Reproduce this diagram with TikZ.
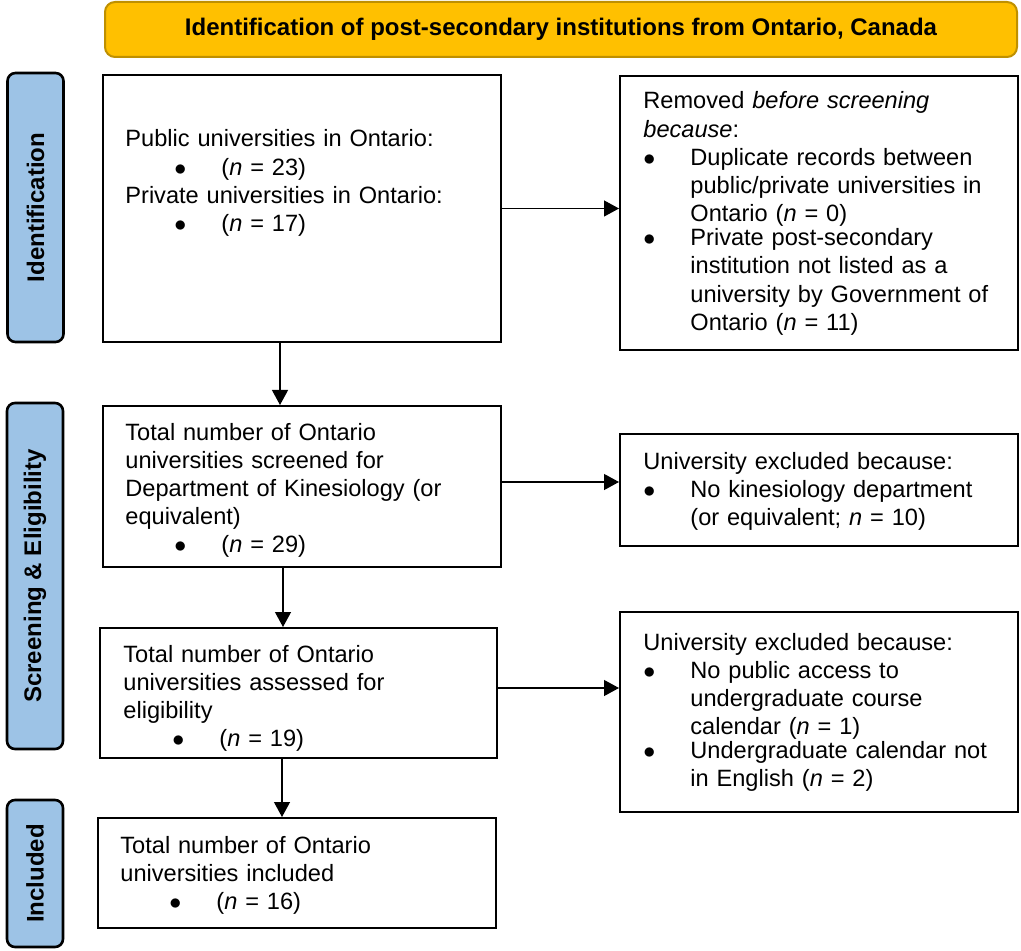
\documentclass[tikz,border=0pt]{standalone}
\usepackage{fontspec}
\setmainfont{Liberation Sans}
\usetikzlibrary{arrows.meta}
\definecolor{titlegold}{HTML}{FFC000}
\definecolor{titleedge}{HTML}{BF9000}
\definecolor{stageblue}{HTML}{9DC3E6}
% bullet line with hanging text
\newcommand{\bitem}[2][0pt]{\par\noindent\hspace*{#1}\makebox[23.5pt][l]{$\bullet$}\parbox[t]{\dimexpr\linewidth-23.5pt-#1\relax}{\raggedright #2}}
\tikzset{
	flowbox/.style={draw, line width=1pt, minimum width=199pt, inner sep=0pt},
	flowtext/.style={anchor=base west, inner sep=0pt, text width=182pt, align=left, font=\fontsize{11.8}{14.1}\selectfont},
	stagebar/.style={draw, line width=1.3pt, fill=stageblue, rounded corners=4pt, rotate=90, minimum height=28pt, inner sep=0pt, font=\fontsize{12}{14}\selectfont\bfseries},
	flowarrow/.style={line width=0.6pt, -{Triangle[length=7.5pt,width=8pt]}}
}
\begin{document}
\begin{tikzpicture}[x=0.5pt,y=-0.5pt]
	\useasboundingbox (0,0) rectangle (1021,951);
	% title and stages
	\node[draw=titleedge, line width=1pt, fill=titlegold, rounded corners=5pt, minimum width=456pt, minimum height=27.5pt, font=\fontsize{12}{14}\selectfont\bfseries] (title) at (561,29.5) {Identification of post-secondary institutions from Ontario, Canada};
	\node[stagebar, minimum width=134.5pt] (stageid) at (35.5,207.5) {Identification};
	\node[stagebar, minimum width=173pt] (stagescr) at (35,576) {Screening \& Eligibility};
	\node[stagebar, minimum width=73.5pt] (stageinc) at (35,873.5) {Included};
	% boxes
	\node[flowbox, minimum height=133.5pt] (ident) at (302,208.5) {};
	\node[flowbox, minimum height=137pt] (removed) at (819,213) {};
	\node[flowbox, minimum height=80.5pt] (screened) at (302,486.5) {};
	\node[flowbox, minimum height=56pt] (exclA) at (819,490) {};
	\node[flowbox, minimum width=198.5pt, minimum height=65pt] (assessed) at (298.5,693) {};
	\node[flowbox, minimum height=100pt] (exclB) at (819,712) {};
	\node[flowbox, minimum height=55pt] (included) at (297,873) {};
	% texts
	\node[flowtext] (ident-txt) at (125,147) {Public universities in Ontario:
		\bitem[24.5pt]{(\textit{n} = 23)}
		\par\noindent Private universities in Ontario:
		\bitem[24.5pt]{(\textit{n} = 17)}};
	\node[flowtext] (removed-txt) at (643,109) {Removed \textit{before screening}\\\textit{because}:
		\bitem{Duplicate records between\\public/private universities in\\Ontario (\textit{n} = 0)}
		\bitem{Private post-secondary\\institution not listed as a\\university by Government of\\Ontario (\textit{n} = 11)}};
	\node[flowtext] (screened-txt) at (125,440) {Total number of Ontario\\universities screened for\\Department of Kinesiology (or\\equivalent)
		\bitem[24.5pt]{(\textit{n} = 29)}};
	\node[flowtext] (exclA-txt) at (643,469) {University excluded because:
		\bitem{No kinesiology department\\(or equivalent; \textit{n} = 10)}};
	\node[flowtext] (assessed-txt) at (123,662) {Total number of Ontario\\universities assessed for\\eligibility
		\bitem[24.5pt]{(\textit{n} = 19)}};
	\node[flowtext] (exclB-txt) at (643,650) {University excluded because:
		\bitem{No public access to\\undergraduate course\\calendar (\textit{n} = 1)}
		\bitem{Undergraduate calendar not\\in English (\textit{n} = 2)}};
	\node[flowtext] (included-txt) at (120,853) {Total number of Ontario\\universities included
		\bitem[24.5pt]{(\textit{n} = 16)}};
	% arrows
	\draw[flowarrow] ([xshift=-11pt]ident.south) -- ([xshift=-11pt]ident.south |- screened.north);
	\draw[flowarrow] ([xshift=-9.5pt]screened.south) -- ([xshift=-9.5pt]screened.south |- assessed.north);
	\draw[flowarrow] ([xshift=-8.25pt]assessed.south) -- ([xshift=-8.25pt]assessed.south |- included.north);
	\draw[flowarrow] (ident.east) -- (ident.east -| removed.west);
	\draw[flowarrow] ([yshift=2.25pt]screened.east) -- ([yshift=2.25pt]screened.east -| exclA.west);
	\draw[flowarrow] ([yshift=2.5pt]assessed.east) -- ([yshift=2.5pt]assessed.east -| exclB.west);
\end{tikzpicture}
\end{document}
